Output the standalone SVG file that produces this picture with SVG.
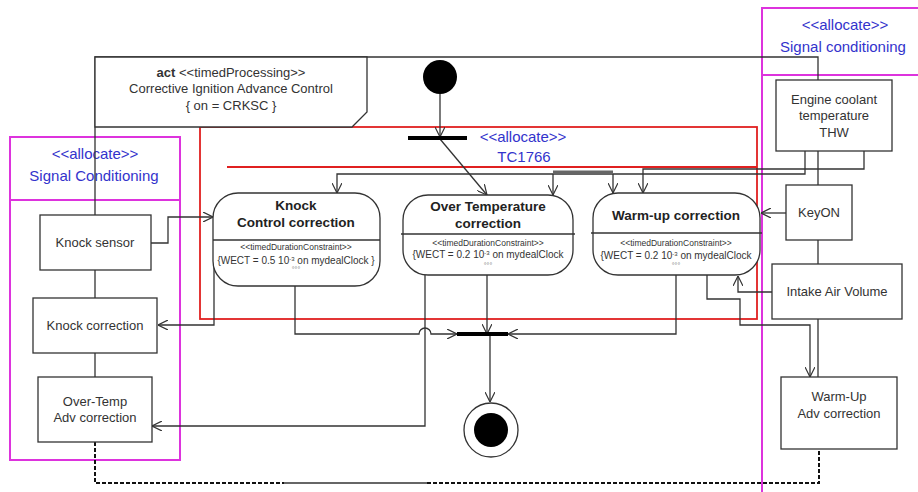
<svg xmlns="http://www.w3.org/2000/svg" width="918" height="492" viewBox="0 0 918 492">
<defs>
<marker id="arr" viewBox="0 0 10 10" refX="10" refY="5" markerWidth="10" markerHeight="10" markerUnits="userSpaceOnUse" orient="auto">
<path d="M0,0 L10,5 L0,10" fill="none" stroke="#333" stroke-width="1.2"/>
</marker>
<style>
.t{font-family:"Liberation Sans",Arial,sans-serif;fill:#333;text-anchor:middle}
.box{fill:#fff;stroke:#333;stroke-width:1.3}
.act{fill:#fff;stroke:#333;stroke-width:1.3}
.c{fill:none;stroke:#333;stroke-width:1.3}
.ca{fill:none;stroke:#333;stroke-width:1.3;marker-end:url(#arr)}
.blue{font-family:"Liberation Sans",Arial,sans-serif;fill:#3333cc;text-anchor:middle;font-size:15px}
.mag{fill:none;stroke:#dd33dd;stroke-width:2}
.b{font-weight:bold;font-size:13.5px;fill:#222}
.s{font-size:8.5px}
.w{font-size:10px}
.o{font-size:7px;fill:#777}
</style>
</defs>
<rect width="918" height="492" fill="#fff"/>

<!-- allocation partitions -->
<g id="partition-left">
<rect class="mag" x="10" y="137" width="170" height="323"/>
<line class="mag" x1="10" y1="200" x2="180" y2="200"/>
<text class="blue" x="95" y="159">&lt;&lt;allocate&gt;&gt;</text>
<text class="blue" x="94" y="181">Signal Conditioning</text>
</g>
<g id="partition-right">
<rect class="mag" x="762" y="8" width="170" height="495"/>
<line class="mag" x1="762" y1="75" x2="918" y2="75"/>
<text class="blue" x="845" y="30">&lt;&lt;allocate&gt;&gt;</text>
<text class="blue" x="843" y="52">Signal conditioning</text>
</g>
<g id="partition-tc1766">
<rect x="200" y="127" width="557" height="192" fill="none" stroke="#e02020" stroke-width="1.8"/>
<line x1="227" y1="167" x2="757" y2="167" stroke="#e02020" stroke-width="1.8"/>
<text class="blue" x="523" y="142">&lt;&lt;allocate&gt;&gt;</text>
<text class="blue" x="524" y="162">TC1766</text>
</g>

<!-- connectors -->
<g id="connectors">
<path class="c" d="M95,215 V57 H818 V80"/>
<path class="c" d="M95,270 V298 M95,353 V377 M818,151 V185 M818,240 V264 M818,319 V377"/>
<path d="M95,442 V483 H284 M427,483 H819 V449" fill="none" stroke="#111" stroke-width="2" stroke-dasharray="4,2"/>
<path class="c" d="M284,483 H427"/>
<path class="ca" d="M440,94 V137"/>
<path class="ca" d="M440,139 L487,195"/>
<path class="ca" d="M805,151 V174 H337 V193"/>
<path class="ca" d="M553,174 V195"/>
<path class="ca" d="M613,174 V193"/>
<path d="M553,172 H613" stroke="#666" stroke-width="3"/>
<path class="ca" d="M864,151 V169 H643 V193"/>
<path class="ca" d="M151,243 H168 V217 H213"/>
<path class="ca" d="M214,262 V325 H158"/>
<path class="ca" d="M295,286 V334 H419 A6,6 0 0 1 431,334 H457"/>
<path class="ca" d="M487,275 V334"/>
<path class="ca" d="M676,275 V334 H508"/>
<path class="ca" d="M425,275 V426 H152"/>
<path class="ca" d="M707,275 V299 H740 V325 H810 V377"/>
<path class="ca" d="M772,292 H738 V276"/>
<path class="ca" d="M786,213 H761"/>
<path class="ca" d="M490,336 V402"/>
</g>

<g id="act-label">
<path class="act" d="M95,57 H367 V112 L352,127 H95 Z"/>
<text class="t" x="231" y="77" font-size="13"><tspan font-weight="bold">act</tspan> &lt;&lt;timedProcessing&gt;&gt;</text>
<text class="t" x="231" y="93" font-size="13">Corrective Ignition Advance Control</text>
<text class="t" x="231" y="110" font-size="13">{ on = CRKSC }</text>
</g>

<g id="initial"><circle cx="440" cy="77" r="17" fill="#000"/></g>
<g id="fork"><line x1="408" y1="138" x2="467" y2="138" stroke="#000" stroke-width="4"/></g>
<g id="join"><line x1="457" y1="334" x2="508" y2="334" stroke="#000" stroke-width="4"/></g>
<g id="final"><circle cx="491" cy="430" r="27" fill="#fff" stroke="#333" stroke-width="1.3"/><circle cx="491" cy="430" r="17" fill="#000"/></g>

<g id="knock-control">
<rect class="box" x="213" y="193" width="167" height="93" rx="25"/>
<line class="c" x1="213" y1="240" x2="380" y2="240"/>
<text class="t b" x="296" y="210">Knock</text>
<text class="t b" x="296" y="227">Control correction</text>
<text class="t s" x="296" y="250">&lt;&lt;timedDurationConstraint&gt;&gt;</text>
<text class="t w" x="296" y="264">{WECT = 0.5 10<tspan dy="-3" font-size="6">-3</tspan><tspan dy="3"> on mydealClock }</tspan></text>
<text class="t o" x="296" y="272">°°°</text>
</g>
<g id="over-temp">
<rect class="box" x="403" y="195" width="170" height="80" rx="25"/>
<line class="c" x1="401" y1="234" x2="575" y2="234"/>
<text class="t b" x="488" y="211">Over Temperature</text>
<text class="t b" x="488" y="228">correction</text>
<text class="t s" x="488" y="246">&lt;&lt;timedDurationConstraint&gt;&gt;</text>
<text class="t w" x="488" y="258">{WECT = 0.2 10<tspan dy="-3" font-size="6">-3</tspan><tspan dy="3"> on mydealClock</tspan></text>
<text class="t o" x="488" y="268">°°°</text>
</g>
<g id="warm-up">
<rect class="box" x="593" y="193" width="167" height="82" rx="25"/>
<line class="c" x1="591" y1="233" x2="762" y2="233"/>
<text class="t b" x="676" y="220">Warm-up correction</text>
<text class="t s" x="676" y="246">&lt;&lt;timedDurationConstraint&gt;&gt;</text>
<text class="t w" x="676" y="259">{WECT = 0.2 10<tspan dy="-3" font-size="6">-3</tspan><tspan dy="3"> on mydealClock</tspan></text>
<text class="t o" x="676" y="268">°°°</text>
</g>

<g id="knock-sensor"><rect class="box" x="40" y="215" width="111" height="55"/><text class="t" x="95" y="247" font-size="13">Knock sensor</text></g>
<g id="knock-correction"><rect class="box" x="33" y="298" width="124" height="55"/><text class="t" x="95" y="330" font-size="13">Knock correction</text></g>
<g id="over-temp-adv"><rect class="box" x="38" y="377" width="114" height="65"/><text class="t" x="95" y="406" font-size="13">Over-Temp</text><text class="t" x="95" y="422" font-size="13">Adv correction</text></g>
<g id="engine-coolant"><rect class="box" x="776" y="80" width="116" height="71"/><text class="t" x="834" y="104" font-size="13">Engine coolant</text><text class="t" x="834" y="120" font-size="13">temperature</text><text class="t" x="834" y="137" font-size="13">THW</text></g>
<g id="keyon"><rect class="box" x="786" y="185" width="66" height="55"/><text class="t" x="819" y="217" font-size="13">KeyON</text></g>
<g id="intake"><rect class="box" x="772" y="264" width="130" height="55"/><text class="t" x="837" y="296" font-size="13">Intake Air Volume</text></g>
<g id="warm-up-adv"><rect class="box" x="781" y="377" width="116" height="72"/><text class="t" x="839" y="401" font-size="13">Warm-Up</text><text class="t" x="839" y="418" font-size="13">Adv correction</text></g>
</svg>
